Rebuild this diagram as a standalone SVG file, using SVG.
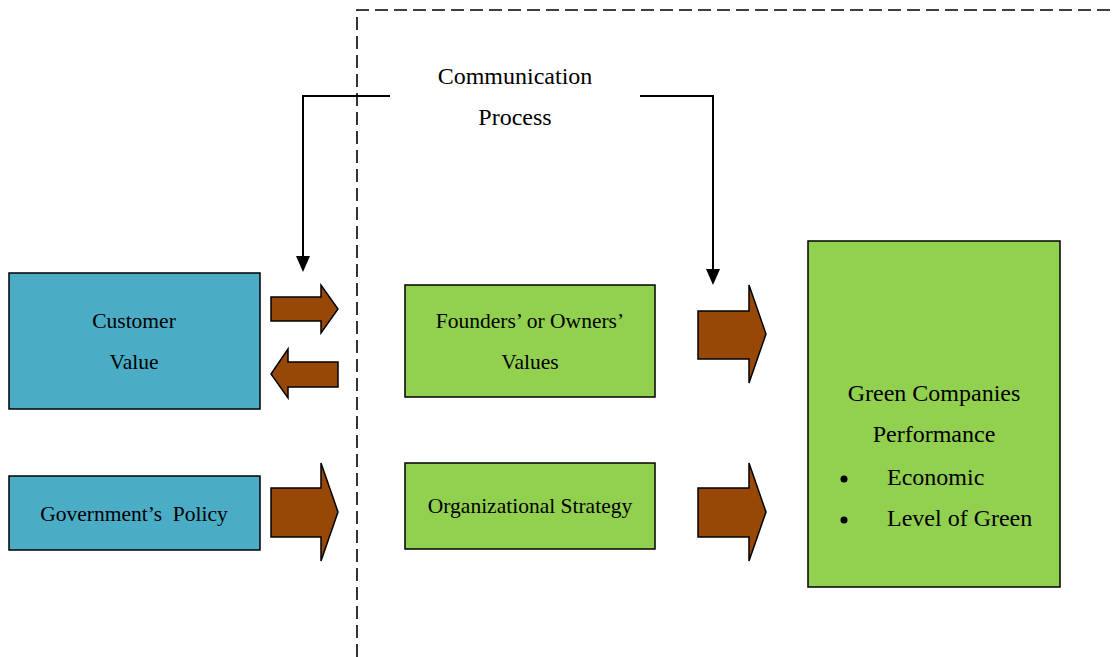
<svg xmlns="http://www.w3.org/2000/svg" width="1114" height="657" viewBox="0 0 1114 657">
<style>
.box{stroke:#000;stroke-width:1.5}
.blue{fill:#4BACC6}
.green{fill:#92D050}
.arr{fill:#974806;stroke:#000;stroke-width:1.5;stroke-linejoin:miter}
.t{font-family:"Liberation Serif","Times New Roman",serif;fill:#000;text-anchor:middle}
.s{text-anchor:start}
.line{fill:none;stroke:#000;stroke-width:2}
.dash{fill:none;stroke:#000;stroke-width:1.6;stroke-dasharray:13,6}
</style>
<rect width="1114" height="657" fill="#fff"/>
<g id="boundary">
<path class="dash" d="M357,657 L357,10 L1114,10"/>
</g>
<g id="connectors">
<path class="line" d="M390,96 L303,96 L303,256"/>
<path d="M296,256 L310,256 L303,272 Z" fill="#000"/>
<path class="line" d="M640,96 L713,96 L713,269"/>
<path d="M706,269 L720,269 L713,285 Z" fill="#000"/>
<path class="arr" d="M271,297 L321,297 L321,285 L338,309 L321,333 L321,321 L271,321 Z"/>
<path class="arr" d="M338,362 L288,362 L288,349 L271,374 L288,398 L288,387 L338,387 Z"/>
<path class="arr" d="M271,488 L321,488 L321,463 L338,512 L321,561 L321,537 L271,537 Z"/>
<path class="arr" d="M698,311 L749,311 L749,285 L766,334 L749,383 L749,359 L698,359 Z"/>
<path class="arr" d="M698,488 L749,488 L749,463 L766,512 L749,561 L749,537 L698,537 Z"/>
</g>
<g id="comm-label">
<text class="t" x="515" y="84" font-size="24">Communication</text>
<text class="t" x="515" y="125" font-size="24">Process</text>
</g>
<g id="customer-value">
<rect class="box blue" x="9" y="273" width="251" height="136"/>
<text class="t" x="134" y="328" font-size="21.5">Customer</text>
<text class="t" x="134" y="369" font-size="21.5">Value</text>
</g>
<g id="government-policy">
<rect class="box blue" x="9" y="476" width="251" height="74"/>
<text class="t" x="134" y="521" font-size="21.5" xml:space="preserve">Government’s  Policy</text>
</g>
<g id="founders-values">
<rect class="box green" x="405" y="285" width="250" height="112"/>
<text class="t" x="530" y="328" font-size="21.5">Founders’ or Owners’</text>
<text class="t" x="530" y="369" font-size="21.5">Values</text>
</g>
<g id="organizational-strategy">
<rect class="box green" x="405" y="463" width="250" height="86"/>
<text class="t" x="530" y="513" font-size="21.5">Organizational Strategy</text>
</g>
<g id="green-performance">
<rect class="box green" x="808" y="241" width="252" height="346"/>
<text class="t" x="934" y="401" font-size="24">Green Companies</text>
<text class="t" x="934" y="442" font-size="24">Performance</text>
<circle cx="844" cy="479" r="3.5" fill="#000"/>
<text class="t s" x="887" y="485" font-size="24">Economic</text>
<circle cx="844" cy="520" r="3.5" fill="#000"/>
<text class="t s" x="887" y="526" font-size="24">Level of Green</text>
</g>
</svg>
